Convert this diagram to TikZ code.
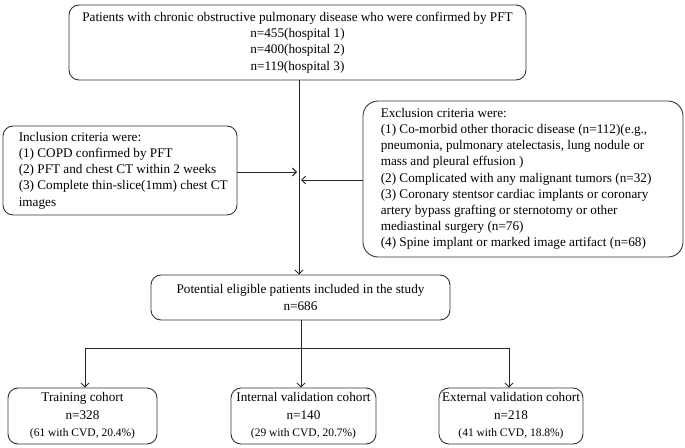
\documentclass[tikz,border=0pt]{standalone}
\usepackage{fontspec}
\setmainfont{Liberation Serif}
\usetikzlibrary{arrows.meta}
\begin{document}
\begin{tikzpicture}[x=1pt,y=1pt,
  box/.style={draw=black!80, line width=0.9pt, rounded corners=10pt, align=center, inner sep=0pt, font=\fontsize{13.2}{16.3}\selectfont},
  cbox/.style={box, font=\fontsize{13.2}{17.5}\selectfont},
  txt/.style={align=left, inner sep=0pt, anchor=west, font=\fontsize{13.2}{16.2}\selectfont},
  arr/.style={draw=black!85, line width=0.9pt, -{Straight Barb[length=4pt,width=8pt]}},
  ln/.style={draw=black!85, line width=0.9pt}]
\useasboundingbox (0,0) rectangle (685,-447);
\coordinate (spine) at (299,0);
\node[box, minimum width=457, minimum height=75] (top) at (297.5,-42.5)
  {Patients with chronic obstructive pulmonary disease who were confirmed by PFT\\n=455(hospital 1)\\n=400(hospital 2)\\n=119(hospital 3)};
\node[box, minimum width=234, minimum height=89] (inc) at (120,-170.5) {};
\node[txt] (inctxt) at ([xshift=16pt]inc.west)
  {Inclusion criteria were:\\(1) COPD confirmed by PFT\\(2) PFT and chest CT within 2 weeks\\(3) Complete thin-slice(1mm) chest CT\\images};
\node[box, rounded corners=15pt, minimum width=320, minimum height=156] (exc) at (523,-179) {};
\node[txt] (exctxt) at ([xshift=18pt]exc.west)
  {Exclusion criteria were:\\(1) Co-morbid other thoracic disease (n=112)(e.g.,\\pneumonia, pulmonary atelectasis, lung nodule or\\mass and pleural effusion )\\(2) Complicated with any malignant tumors (n=32)\\(3) Coronary stentsor cardiac implants or coronary\\artery bypass grafting or sternotomy or other\\mediastinal surgery (n=76)\\(4) Spine implant or marked image artifact (n=68)};
\node[box, minimum width=299, minimum height=45] (pot) at (300.5,-297.5)
  {Potential eligible patients included in the study\\n=686};
\node[cbox, minimum width=149, minimum height=56] (tr) at (82.5,-416)
  {Training cohort\\n=328\\{\fontsize{11.5}{13}\selectfont (61 with CVD, 20.4\%)}};
\node[cbox, minimum width=145, minimum height=56] (iv) at (303.5,-416)
  {Internal validation cohort\\n=140\\{\fontsize{11.5}{13}\selectfont (29 with CVD, 20.7\%)}};
\node[cbox, minimum width=144, minimum height=56] (ev) at (511,-416)
  {External validation cohort\\n=218\\{\fontsize{11.5}{13}\selectfont (41 with CVD, 18.8\%)}};
\coordinate (incend) at (297,-172);
\coordinate (excend) at (301,-180);
\draw[arr] (top.south -| spine) -- (pot.north -| spine);
\draw[arr] (inc.east |- incend) -- (incend);
\draw[arr] (exc.west |- excend) -- (excend);
\coordinate (bar) at (0,-348);
\coordinate (tx) at (85,0);
\coordinate (ix) at (301,0);
\coordinate (ex) at (509,0);
\draw[ln] (pot.south -| ix) -- (bar -| ix);
\draw[ln] (bar -| tx) -- (bar -| ex);
\draw[arr] (bar -| tx) -- (tr.north -| tx);
\draw[arr] (bar -| ix) -- (iv.north -| ix);
\draw[arr] (bar -| ex) -- (ev.north -| ex);
\end{tikzpicture}
\end{document}
